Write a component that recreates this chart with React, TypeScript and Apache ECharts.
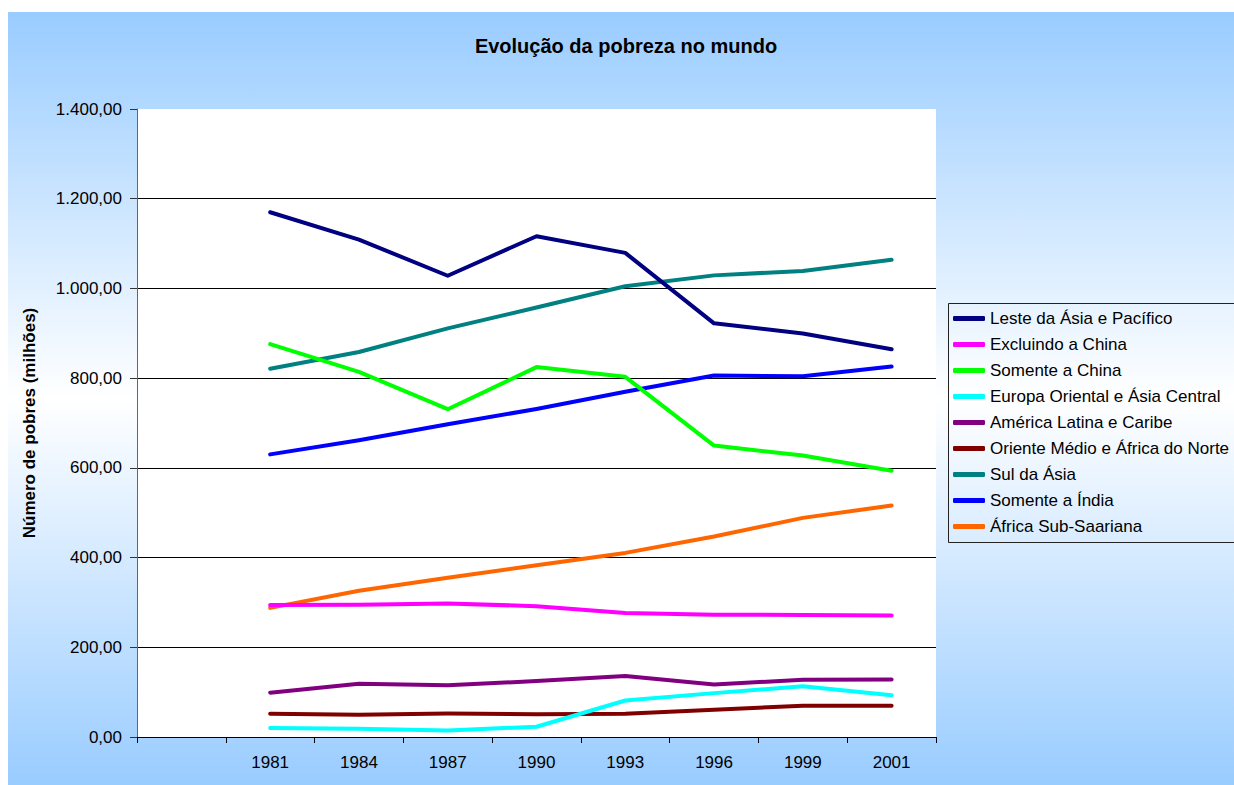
import React, { useEffect, useRef } from "react";
import * as echarts from "echarts";

const categories = ["", "1981", "1984", "1987", "1990", "1993", "1996", "1999", "2001"];
const years = ["1981", "1984", "1987", "1990", "1993", "1996", "1999", "2001"];

const lesteAsiaPacifico = [1169.8, 1108.8, 1028.3, 1116.3, 1079.3, 922.2, 899.6, 864.3];
const excluindoChina = [294.0, 295.0, 297.5, 291.7, 276.4, 272.6, 272.1, 270.7];
const somenteChina = [875.8, 813.8, 730.8, 824.6, 802.9, 649.6, 627.5, 593.6];
const europaOriental = [20.2, 18.3, 14.6, 22.9, 81.3, 97.8, 113.0, 93.3];
const americaLatina = [98.9, 118.9, 115.4, 124.6, 136.1, 117.2, 127.4, 128.2];
const orienteMedio = [51.9, 49.8, 52.5, 50.9, 51.8, 60.9, 69.6, 69.8];
const sulAsia = [821.1, 858.4, 911.0, 957.5, 1004.8, 1029.1, 1039.0, 1063.7];
const somenteIndia = [630.0, 661.7, 697.1, 731.4, 769.5, 805.7, 804.4, 826.0];
const africaSubSaariana = [287.9, 326.0, 355.2, 382.8, 410.4, 446.8, 488.5, 516.0];

const seriesNames = [
  "Leste da Ásia e Pacífico",
  "Excluindo a China",
  "Somente a China",
  "Europa Oriental e Ásia Central",
  "América Latina e Caribe",
  "Oriente Médio e África do Norte",
  "Sul da Ásia",
  "Somente a Índia",
  "África Sub-Saariana",
];
const seriesValues = [
  lesteAsiaPacifico,
  excluindoChina,
  somenteChina,
  europaOriental,
  americaLatina,
  orienteMedio,
  sulAsia,
  somenteIndia,
  africaSubSaariana,
];
const seriesColors = [
  "#000080",
  "#FF00FF",
  "#00FF00",
  "#00FFFF",
  "#800080",
  "#800000",
  "#008080",
  "#0000FF",
  "#FF6600",
];

const titleText = "Evolução da pobreza no mundo";
const yAxisName = "Número de pobres (milhões)";

const FONT = "'Liberation Sans', Arial, Helvetica, sans-serif";

function fmt(v: number): string {
  const s = v.toFixed(2);
  const [i, d] = s.split(".");
  return i.replace(/\B(?=(\d{3})+(?!\d))/g, ".") + "," + d;
}

export default function App() {
  const ref = useRef<HTMLDivElement>(null);
  useEffect(() => {
    if (!ref.current) return;
    const chart = echarts.init(ref.current, undefined, { renderer: "svg" });
    chart.setOption({
      animation: false,
      textStyle: { fontFamily: FONT },
      graphic: [
        {
          type: "text",
          x: 626,
          y: 46,
          style: {
            text: titleText,
            textAlign: "center",
            textVerticalAlign: "middle",
            fontFamily: FONT,
            fontWeight: "bold",
            fontSize: 20,
            fill: "#000",
          },
        },
        {
          type: "rect",
          shape: { x: 948.5, y: 303.5, width: 320, height: 239 },
          style: { fill: "none", stroke: "#222", lineWidth: 1 },
          silent: true,
        },
      ],
      legend: {
        orient: "vertical",
        left: 948,
        top: 303,
        padding: [7, 5, 6, 5],
        itemGap: 9,
        itemWidth: 32,
        itemHeight: 5,
        itemTextGap: 5,
        icon: "roundRect",
        borderWidth: 0,
        backgroundColor: "transparent",
        textStyle: { fontSize: 17, color: "#000", fontFamily: FONT },
        data: seriesNames,
      },
      grid: {
        left: 137,
        top: 109,
        width: 799,
        height: 628,
        show: true,
        backgroundColor: "#FFFFFF",
        borderWidth: 0,
        containLabel: false,
      },
      xAxis: {
        type: "category",
        data: categories,
        boundaryGap: true,
        axisLine: { show: true, lineStyle: { color: "#000", width: 1 } },
        axisTick: { show: true, length: 6, inside: false, alignWithLabel: false, interval: 0, lineStyle: { color: "#000" } },
        axisLabel: { fontSize: 17, color: "#000", margin: 17, interval: 0, fontFamily: FONT },
        splitLine: { show: false },
      },
      yAxis: {
        type: "value",
        min: 0,
        max: 1400,
        interval: 200,
        name: yAxisName,
        nameLocation: "middle",
        nameGap: 99,
        nameRotate: 90,
        nameTextStyle: { fontSize: 17, fontWeight: "bold", color: "#000", fontFamily: FONT },
        axisLine: { show: true, lineStyle: { color: "#666", width: 1 } },
        axisTick: { show: true, length: 7, inside: false, lineStyle: { color: "#333" } },
        axisLabel: { fontSize: 17, color: "#000", margin: 15, formatter: (v: number) => fmt(v), fontFamily: FONT },
        splitLine: { show: true, showMaxLine: false, lineStyle: { color: "#000", width: 1 } },
      },
      series: seriesNames.map((name, k) => ({
        name,
        type: "line",
        symbol: "none",
        showSymbol: false,
        color: seriesColors[k],
        lineStyle: { color: seriesColors[k], width: 4, cap: "round", join: "round" },
        data: years.map((y, i) => [y, seriesValues[k][i]]),
        z: 10 - k,
      })),
    });
    return () => chart.dispose();
  }, []);

  return (
    <div style={{ position: "absolute", left: 0, top: 0, width: 1234, height: 785, background: "#fff", overflow: "hidden" }}>
      <div
        style={{
          position: "absolute",
          left: 8,
          top: 12,
          width: 1226,
          height: 773,
          background: "linear-gradient(to bottom, #99CCFF 0%, #FFFFFF 50%, #99CCFF 100%)",
        }}
      />
      <div ref={ref} style={{ position: "absolute", left: 0, top: 0, width: 1234, height: 785 }} />
    </div>
  );
}
